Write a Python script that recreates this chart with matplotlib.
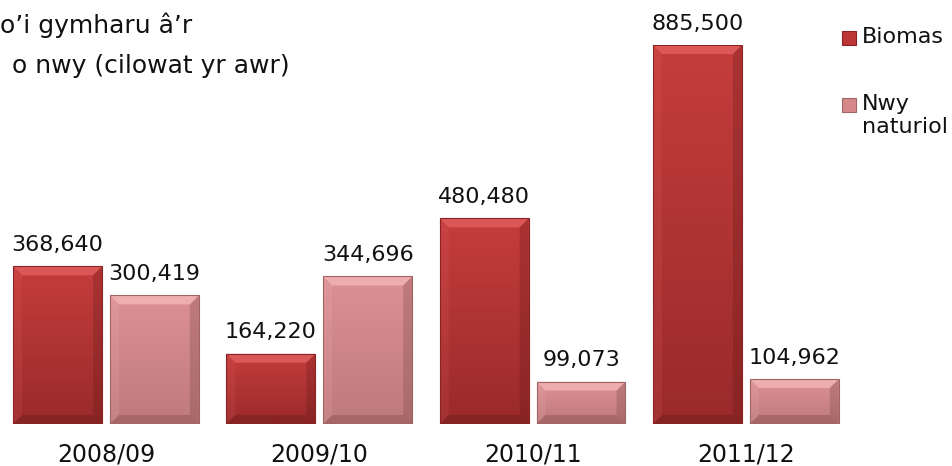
import numpy as np
import matplotlib
matplotlib.use("Agg")
import matplotlib.pyplot as plt
from matplotlib.colors import LinearSegmentedColormap
from matplotlib.patches import Polygon, Rectangle

# data
years = ["2008/09", "2009/10", "2010/11", "2011/12"]
biomas = [368640, 164220, 480480, 885500]
nwy = [300419, 344696, 99073, 104962]
series_names = ["Biomas", "Nwy\nnaturiol"]
title_lines = ["o\u2019i gymharu \u00e2\u2019r", "o nwy (cilowat yr awr)"]

plt.rcParams["font.family"] = ["DejaVu Sans"]
TXT = "#111111"

W, H = 953, 466
fig = plt.figure(figsize=(W / 100, H / 100), dpi=100)
# baseline at y=424 px, top of tallest bar at y=45 px
ax = fig.add_axes([0, (H - 424) / H, 1, (424 - 45) / H])
XL = (-0.497, 3.971)
YL = (0, 885500)
ax.set_xlim(*XL)
ax.set_ylim(*YL)
ax.axis("off")

dxpp = (XL[1] - XL[0]) / W
dypp = (YL[1] - YL[0]) / (424 - 45)

x = np.arange(len(years))
w = 0.417
off = 0.227


def bevel_bars(bars, top, bottom, light, dark, edge):
    cmap = LinearSegmentedColormap.from_list("g", [bottom, top])
    bev = 9
    for b in bars:
        x0, y0 = b.get_x(), b.get_y()
        x1, y1 = x0 + b.get_width(), y0 + b.get_height()
        grad = np.linspace(0, 1, 64).reshape(-1, 1)
        im = ax.imshow(grad, cmap=cmap, origin="lower", aspect="auto",
                       extent=(x0, x1, y0, y1), zorder=2)
        im.set_clip_path(b)
        bx, by = bev * dxpp, min(bev * dypp, (y1 - y0) / 2)
        ax.add_patch(Polygon([(x0, y1), (x1, y1), (x1 - bx, y1 - by), (x0 + bx, y1 - by)],
                             closed=True, facecolor=light, alpha=0.55, lw=0, zorder=3))
        ax.add_patch(Polygon([(x0, y0), (x0, y1), (x0 + bx, y1 - by), (x0 + bx, y0 + by)],
                             closed=True, facecolor=light, alpha=0.12, lw=0, zorder=3))
        ax.add_patch(Polygon([(x1, y0), (x1, y1), (x1 - bx, y1 - by), (x1 - bx, y0 + by)],
                             closed=True, facecolor=dark, alpha=0.25, lw=0, zorder=3))
        ax.add_patch(Polygon([(x0, y0), (x1, y0), (x1 - bx, y0 + by), (x0 + bx, y0 + by)],
                             closed=True, facecolor=dark, alpha=0.3, lw=0, zorder=3))
        b.set_edgecolor(edge)
        b.set_linewidth(0.8)
        b.set_zorder(4)
        b.set_facecolor("none")


b1 = ax.bar(x - off, biomas, w, color="#BC3636", label=series_names[0])
b2 = ax.bar(x + off, nwy, w, color="#D4888A", label=series_names[1])
bevel_bars(b1, "#C53D3D", "#9A2A2A", "#F07070", "#5A1515", "#8A2424")
bevel_bars(b2, "#DC9193", "#BF7A7C", "#FFC8C8", "#6A3A3C", "#9E6567")
ax.set_xlim(*XL)
ax.set_ylim(*YL)

for bars, vals in [(b1, biomas), (b2, nwy)]:
    for b, v in zip(bars, vals):
        ax.annotate(f"{v:,}", (b.get_x() + b.get_width() / 2, v),
                    xytext=(0, 11), textcoords="offset points",
                    ha="center", va="baseline", fontsize=16, color=TXT)

for xi, lab in zip(x, years):
    ax.annotate(lab, (xi, 0), xytext=(0, -27), textcoords="offset points",
                ha="center", va="baseline", fontsize=17, color=TXT)

fig.text(0.0, 1 - 33 / H, title_lines[0], ha="left", va="baseline",
         fontsize=18, color=TXT)
fig.text(12 / W, 1 - 73 / H, title_lines[1], ha="left", va="baseline",
         fontsize=18, color=TXT)

# legend
leg_cols = ["#BC3636", "#D4888A"]
leg_edges = ["#8A2424", "#9E6567"]
leg_y = [38, 105]
for name, c, e, yc in zip(series_names, leg_cols, leg_edges, leg_y):
    fig.patches.append(Rectangle((842 / W, 1 - (yc + 7) / H), 14 / W, 14 / H,
                                 transform=fig.transFigure, facecolor=c,
                                 edgecolor=e, lw=0.8))
    fig.text(862 / W, 1 - (yc - 11) / H, name, ha="left", va="top",
             fontsize=16, color=TXT, linespacing=1.2)

fig.savefig("out.png", dpi=100)
